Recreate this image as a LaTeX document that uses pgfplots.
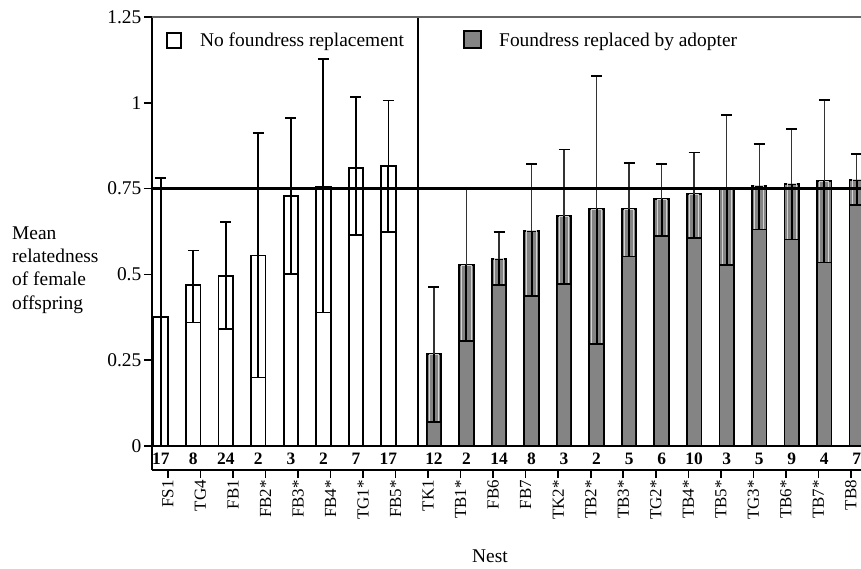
\documentclass[border=0pt]{standalone}
\usepackage{fontspec}
\setmainfont{Liberation Serif}
\usepackage{pgfplots}
\usepackage{pgfplotstable}
\pgfplotsset{compat=1.18}
\definecolor{barg}{RGB}{132,132,132}

% x = bar centre, m = mean, lo/hi = lower/upper limit, n = sample size
\pgfplotstableread{
x     m      lo     hi     n
-0.22 0.375  0.000  0.780  17
0.78  0.470  0.360  0.570  8
1.78  0.495  0.340  0.652  24
2.78  0.555  0.200  0.912  2
3.78  0.729  0.502  0.956  3
4.78  0.756  0.389  1.127  2
5.78  0.811  0.615  1.016  7
6.78  0.816  0.624  1.007  17
}\whitetab

\pgfplotstableread{
x     m      lo     hi     n
8.18  0.267  0.069  0.463  12
9.18  0.527  0.306  0.750  2
10.18 0.546  0.470  0.623  14
11.18 0.627  0.438  0.821  8
12.18 0.670  0.473  0.864  3
13.18 0.690  0.297  1.079  2
14.18 0.690  0.552  0.825  5
15.18 0.719  0.612  0.821  6
16.18 0.734  0.607  0.855  10
17.18 0.748  0.527  0.964  3
18.18 0.758  0.631  0.880  5
19.18 0.764  0.602  0.923  9
20.18 0.771  0.535  1.008  4
21.18 0.776  0.702  0.850  7
}\graytab

\begin{document}
\begin{tikzpicture}
\begin{axis}[
  scale only axis, width=709bp, height=453bp,
  xmin=-0.49, xmax=21.31, ymin=-0.0699, ymax=1.25,
  axis x line*=bottom, axis y line*=left,
  axis line style={line width=1.8bp, black},
  tick align=outside,
  major tick length=8bp,
  tick style={line width=1.6bp, black},
  xtick={0,...,21},
  xticklabels={FS1,TG4,FB1,FB2*,FB3*,FB4*,TG1*,FB5*,TK1,TB1*,FB6,FB7,TK2*,TB2*,TB3*,TG2*,TB4*,TB5*,TG3*,TB6*,TB7*,TB8},
  xticklabel style={rotate=90, anchor=east, font=\fontsize{17}{18}\selectfont, inner sep=2bp},
  ytick={0,0.25,0.5,0.75,1,1.25},
  yticklabels={0,0.25,0.5,0.75,1,1.25},
  yticklabel style={font=\fontsize{19.5}{21}\selectfont, inner sep=2.5bp},
  /pgf/number format/assume math mode=true,
  clip=false,
]
% white bars
\addplot[ybar, bar width=14.5bp, bar shift=0pt, fill=white, draw=black, line width=1.8bp]
  table[x=x, y=m] {\whitetab};
% gray bars
\addplot[ybar, bar width=14.5bp, bar shift=0pt, fill=barg, draw=black, line width=1.8bp]
  table[x=x, y=m] {\graytab};
\addplot[ybar, bar width=9.2bp, bar shift=0pt, fill=none, draw=gray!35, line width=1bp]
  table[x=x, y=m] {\graytab};
\addplot[ybar, bar width=12.2bp, bar shift=0pt, fill=barg, draw=none]
  table[x=x, y=lo] {\graytab};

% upper error bars
\addplot[draw=none, mark=none,
  error bars/.cd, y dir=plus, y explicit, error mark=-,
  error bar style={draw=black, line width=1.8bp},
  error mark options={draw=black, rotate=90, line width=1.7bp, mark size=5.5bp}]
  table[x=x, y=m, y error plus expr=\thisrow{hi}-\thisrow{m}] {\whitetab};
\addplot[draw=none, mark=none,
  error bars/.cd, y dir=plus, y explicit, error mark=-,
  error bar style={draw=black!80, line width=1.4bp},
  error mark options={draw=black, rotate=90, line width=1.7bp, mark size=5.5bp}]
  table[x=x, y=m, y error plus expr=\thisrow{hi}-\thisrow{m}] {\graytab};
% lower error bars
\addplot[draw=none, mark=none,
  error bars/.cd, y dir=minus, y explicit, error mark=-,
  error bar style={draw=black, line width=1.9bp},
  error mark options={draw=black, rotate=90, line width=1.7bp, mark size=7bp}]
  table[x=x, y=m, y error minus expr=\thisrow{m}-\thisrow{lo}] {\whitetab};
\addplot[draw=none, mark=none,
  error bars/.cd, y dir=minus, y explicit, error mark=-,
  error bar style={draw=black, line width=2bp},
  error mark options={draw=black, rotate=90, line width=1.7bp, mark size=7bp}]
  table[x=x, y=m, y error minus expr=\thisrow{m}-\thisrow{lo}] {\graytab};

% sample sizes
\addplot[draw=none, mark=none, nodes near coords, point meta=explicit symbolic,
  every node near coord/.append style={anchor=center, inner sep=0pt, font=\bfseries\fontsize{17.5}{19}\selectfont}]
  table[x=x, y expr=-0.037, meta=n] {\whitetab};
\addplot[draw=none, mark=none, nodes near coords, point meta=explicit symbolic,
  every node near coord/.append style={anchor=center, inner sep=0pt, font=\bfseries\fontsize{17.5}{19}\selectfont}]
  table[x=x, y expr=-0.037, meta=n] {\graytab};

% reference lines and frame
\draw[line width=1.8bp] (axis cs:-0.49,0) -- (axis cs:21.31,0);
\draw[line width=3.4bp] (axis cs:-0.49,0.75) -- (axis cs:21.31,0.75);
\draw[line width=1.8bp] (axis cs:7.69,0) -- (axis cs:7.69,1.25);
\draw[line width=1.8bp, black!60] (axis cs:-0.49,1.25) -- (axis cs:21.31,1.25);

% legend
\draw[line width=2bp, fill=white] (axis cs:-0.03,1.2034) rectangle (axis cs:0.40,1.1597);
\node[anchor=base west, inner sep=0, font=\fontsize{19.5}{22}\selectfont] at (axis cs:0.984,1.1626) {No foundress replacement};
\draw[line width=2bp, fill=barg] (axis cs:9.10,1.210) rectangle (axis cs:9.62,1.161);
\node[anchor=base west, inner sep=0, font=\fontsize{19.5}{22}\selectfont] at (axis cs:10.18,1.1626) {Foundress replaced by adopter};

% axis titles
\node[anchor=west, align=left, inner sep=0, font=\fontsize{19.5}{23.3}\selectfont, xshift=-140bp] at (axis cs:-0.49,0.513) {Mean\\relatedness\\of female\\offspring};
\node[anchor=base, inner sep=0, font=\fontsize{19.5}{22}\selectfont, yshift=-92bp] at (axis cs:9.90,-0.0699) {Nest};
\end{axis}
\pgfresetboundingbox
\path ([shift={(-152bp,-99bp)}]current axis.south west) rectangle ([shift={(0bp,17bp)}]current axis.north east);
\end{tikzpicture}
\end{document}
